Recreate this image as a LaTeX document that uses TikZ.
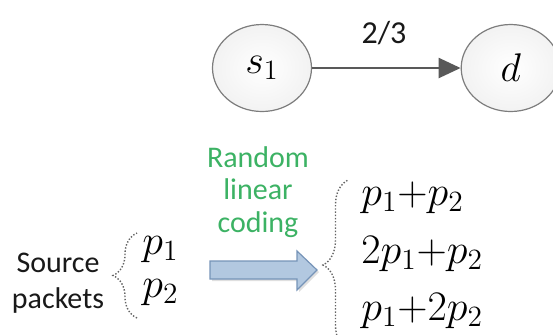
\RequirePackage{fix-cm}
\documentclass[tikz,border=0pt]{standalone}
\usepackage{fontspec}
\newfontfamily\calibri{Carlito}
\usetikzlibrary{calc,positioning,arrows.meta,decorations.pathreplacing,shapes.geometric,shadows}
\definecolor{nodegray}{RGB}{125,125,125}
\definecolor{edgegray}{RGB}{89,89,89}
\definecolor{codegreen}{RGB}{60,178,100}
\definecolor{arrowblue}{RGB}{178,200,224}
\definecolor{arrowedge}{RGB}{118,148,184}
\definecolor{bracegray}{RGB}{100,100,100}

\begin{document}
\begin{tikzpicture}[x=0.5pt,y=-0.5pt,node distance=74.25pt,
  every node/.style={inner sep=0pt},
  vertex/.style={draw=nodegray,ellipse,line width=0.6pt,inner color=white,outer color=black!5,
    minimum width=49.5pt,minimum height=43.5pt,font=\fontsize{20}{24}\selectfont},
  txt/.style={font=\calibri\fontsize{15}{18}\selectfont,align=center,text=black!90},
  greentxt/.style={font=\calibri\fontsize{15}{16.2}\selectfont,align=center,text=codegreen},
  pkt/.style={font=\fontsize{21}{25}\selectfont,anchor=base west},
  dotbrace/.style={draw=bracegray,line width=0.7pt,dash pattern=on 0.7pt off 0.9pt,
    decorate,decoration={brace,amplitude=#1}},
  blockarrow/.style={fill=arrowblue,draw=arrowedge,line width=0.6pt,
    drop shadow={opacity=0.25,shadow xshift=1pt,shadow yshift=-1pt}}]
\useasboundingbox (0,0) rectangle (553,334);
\node[vertex] (s1) at (262,68) {$s_1$};
\node[vertex,right=of s1] (d) {$d$};
\draw[-{Triangle[length=11pt,width=10pt]},edgegray,line width=1.2pt] (s1) -- (d);
\node[txt,font=\calibri\fontsize{16}{19}\selectfont] (rate) at (384,33) {2/3};
\node[txt] (src) at (58,283) {Source\\packets};
\draw[dotbrace=12pt] (137,318) -- (137,233);
\node[pkt] (p1) at (142,254) {$p_1$};
\node[pkt] (p2) at (142,297) {$p_2$};
\node[greentxt] (rlc) at (258,192) {Random\\linear\\coding};
\draw[blockarrow] (210,261) -- (297,261) -- (297,251) -- (317,270) -- (297,290) -- (297,279) -- (210,279) -- cycle;
\draw[dotbrace=12.5pt] (348,350) -- (348,180);
\node[pkt] (c1) at (361,205) {$p_1{+}p_2$};
\node[pkt] (c2) at (361,263) {$2p_1{+}p_2$};
\node[pkt] (c3) at (361,320) {$p_1{+}2p_2$};
\end{tikzpicture}
\end{document}
